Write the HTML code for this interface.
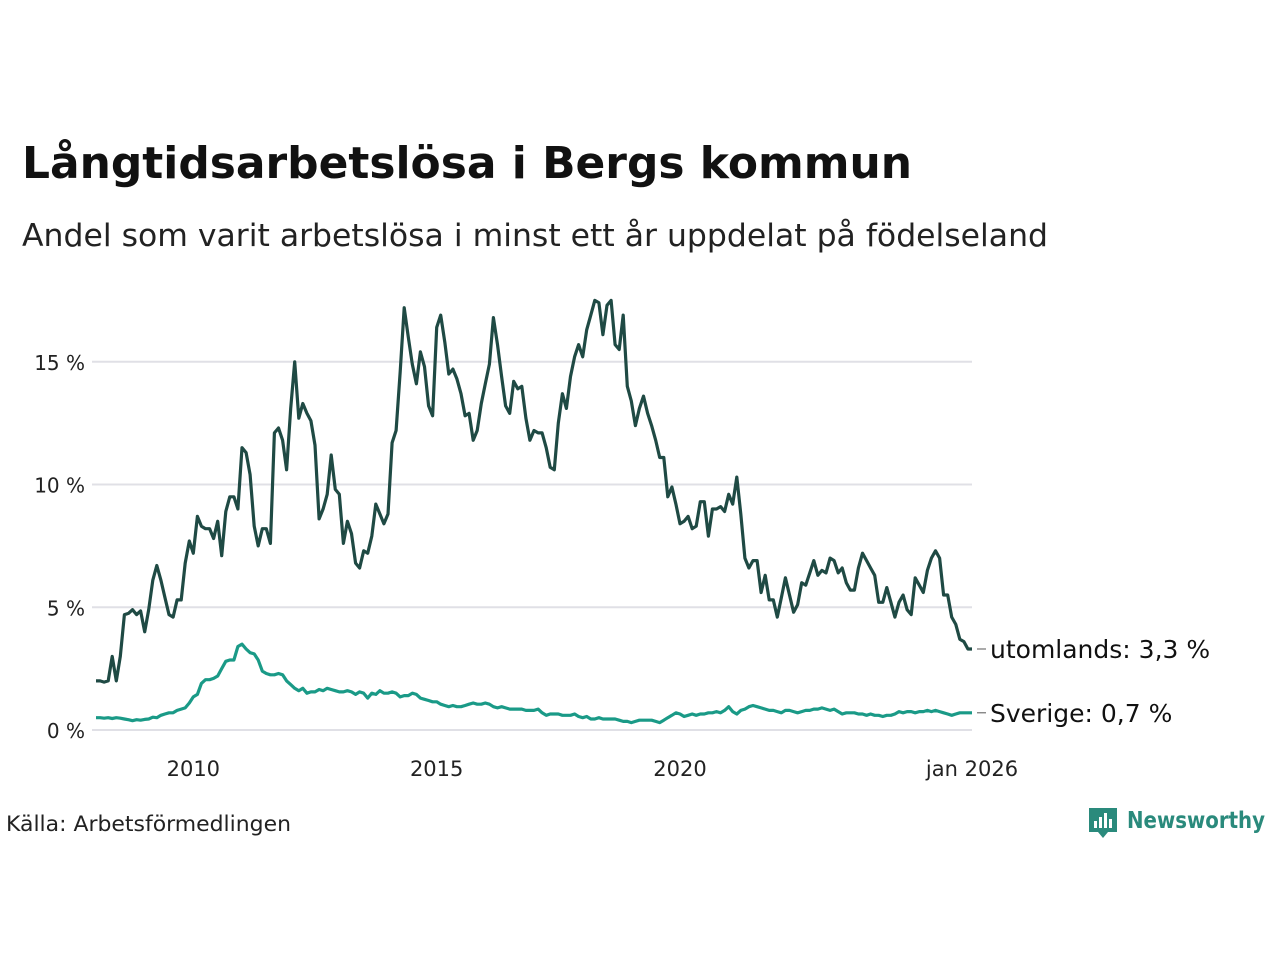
<!DOCTYPE html>
<html><head><meta charset="utf-8"><style>
html,body{margin:0;padding:0;background:#fff;}
svg{display:block;font-family:"DejaVu Sans","Liberation Sans",sans-serif;}
</style></head><body>
<svg id="chart" width="1280" height="960" viewBox="0 0 1280 960">
<text x="22" y="178" font-size="44" font-weight="bold" fill="#111" textLength="890" lengthAdjust="spacingAndGlyphs">Långtidsarbetslösa i Bergs kommun</text>
<text x="22" y="246" font-size="31" fill="#222" textLength="1026" lengthAdjust="spacingAndGlyphs">Andel som varit arbetslösa i minst ett år uppdelat på födelseland</text>
<g id="grid"></g>
<g id="lines"></g>
<g id="labels"></g>
<text x="6" y="831" font-size="21" fill="#222" textLength="285" lengthAdjust="spacingAndGlyphs">Källa: Arbetsförmedlingen</text>
<g>
<path d="M1089 808 h28 v24 h-9 l-5 6 l-5 -6 h-9 z" fill="#2a8a7c"/>
<rect x="1094" y="821" width="3" height="7" fill="#fff"/><rect x="1099" y="817" width="3" height="11" fill="#fff"/><rect x="1104" y="813" width="3" height="15" fill="#fff"/><rect x="1109" y="819" width="3" height="9" fill="#fff"/>
<text x="1127" y="828" font-size="23" font-weight="bold" fill="#2a8a7c" textLength="138" lengthAdjust="spacingAndGlyphs">Newsworthy</text>
</g>
</svg>
<script>
const startYear = 2008;
const utomlands = [
2.0,2.0,1.95,2.0,3.0,2.0,3.0,4.7,4.75,4.9,4.7,4.85,
4.0,4.9,6.1,6.7,6.1,5.4,4.7,4.6,5.3,5.3,6.8,7.7,
7.2,8.7,8.3,8.2,8.2,7.8,8.5,7.1,8.9,9.5,9.5,9.0,
11.5,11.3,10.4,8.3,7.5,8.2,8.2,7.6,12.1,12.3,11.8,10.6,
13.1,15.0,12.7,13.3,12.9,12.6,11.6,8.6,9.0,9.6,11.2,9.8,
9.6,7.6,8.5,8.0,6.8,6.6,7.3,7.2,7.9,9.2,8.8,8.4,
8.8,11.7,12.2,14.6,17.2,16.0,14.9,14.1,15.4,14.8,13.2,12.8,
16.4,16.9,15.8,14.5,14.7,14.3,13.7,12.8,12.9,11.8,12.2,13.3,
14.1,14.9,16.8,15.7,14.4,13.2,12.9,14.2,13.9,14.0,12.7,11.8,
12.2,12.1,12.1,11.5,10.7,10.6,12.5,13.7,13.1,14.4,15.2,15.7,
15.2,16.3,16.9,17.5,17.4,16.1,17.3,17.5,15.7,15.5,16.9,14.0,
13.4,12.4,13.1,13.6,12.9,12.4,11.8,11.1,11.1,9.5,9.9,9.2,
8.4,8.5,8.7,8.2,8.3,9.3,9.3,7.9,9.0,9.0,9.1,8.9,
9.6,9.2,10.3,8.8,7.0,6.6,6.9,6.9,5.6,6.3,5.3,5.3,
4.6,5.4,6.2,5.5,4.8,5.1,6.0,5.9,6.4,6.9,6.3,6.5,
6.4,7.0,6.9,6.4,6.6,6.0,5.7,5.7,6.6,7.2,6.9,6.6,
6.3,5.2,5.2,5.8,5.2,4.6,5.2,5.5,4.9,4.7,6.2,5.9,
5.6,6.5,7.0,7.3,7.0,5.5,5.5,4.6,4.3,3.7,3.6,3.3,
3.3];
const sverige = [
0.5,0.5,0.48,0.5,0.47,0.5,0.48,0.45,0.42,0.38,0.42,0.4,
0.43,0.45,0.52,0.5,0.6,0.65,0.7,0.7,0.8,0.85,0.9,1.1,
1.35,1.45,1.9,2.05,2.05,2.1,2.2,2.5,2.8,2.85,2.85,3.4,
3.5,3.3,3.15,3.1,2.85,2.4,2.3,2.25,2.25,2.3,2.25,2.0,
1.85,1.7,1.6,1.7,1.5,1.55,1.55,1.65,1.6,1.7,1.65,1.6,
1.55,1.55,1.6,1.55,1.45,1.55,1.5,1.3,1.5,1.45,1.6,1.5,
1.5,1.55,1.5,1.35,1.4,1.4,1.5,1.45,1.3,1.25,1.2,1.15,
1.15,1.05,1.0,0.95,1.0,0.95,0.95,1.0,1.05,1.1,1.05,1.05,
1.1,1.05,0.95,0.9,0.95,0.9,0.85,0.85,0.85,0.85,0.8,0.8,
0.8,0.85,0.7,0.6,0.65,0.65,0.65,0.6,0.6,0.6,0.65,0.55,
0.5,0.55,0.45,0.45,0.5,0.45,0.45,0.45,0.45,0.4,0.35,0.35,
0.3,0.35,0.4,0.4,0.4,0.4,0.35,0.3,0.4,0.5,0.6,0.7,
0.65,0.55,0.6,0.65,0.6,0.65,0.65,0.7,0.7,0.75,0.7,0.8,
0.95,0.75,0.65,0.8,0.85,0.95,1.0,0.95,0.9,0.85,0.8,0.8,
0.75,0.7,0.8,0.8,0.75,0.7,0.75,0.8,0.8,0.85,0.85,0.9,
0.85,0.8,0.85,0.75,0.65,0.7,0.7,0.7,0.65,0.65,0.6,0.65,
0.6,0.6,0.55,0.6,0.6,0.65,0.75,0.7,0.75,0.75,0.7,0.75,
0.75,0.8,0.75,0.8,0.75,0.7,0.65,0.6,0.65,0.7,0.7,0.7,
0.7];
const yTicks = [0,5,10,15];
const yTickLabels = ["0 %","5 %","10 %","15 %"];
const xTicks = [2010,2015,2020,2026];
const xTickLabels = ["2010","2015","2020","jan 2026"];
const seriesNames = ["utomlands","Sverige"];

const NS="http://www.w3.org/2000/svg";
const X0=96,X1=972,Y0=730,PX_PER_PCT=24.55;
const nYears=(utomlands.length-1)/12;
function x(t){return X0+(t-startYear)/nYears*(X1-X0);}
function y(v){return Y0-v*PX_PER_PCT;}
function mk(tag,attrs,parent){const e=document.createElementNS(NS,tag);for(const k in attrs)e.setAttribute(k,attrs[k]);parent.appendChild(e);return e;}
const grid=document.getElementById('grid'),lines=document.getElementById('lines'),labels=document.getElementById('labels');
yTicks.forEach((v,i)=>{
  const l=mk('line',{x1:92,x2:972,y1:y(v),y2:y(v),stroke:'#e0e0e6','stroke-width':2},grid);
  
  
  const t=mk('text',{x:85,y:y(v)+8,'font-size':20,fill:'#222','text-anchor':'end'},grid);
  t.textContent=yTickLabels[i];
  
  
});
xTicks.forEach((v,i)=>{
  const t=mk('text',{x:x(v),y:776,'font-size':21,fill:'#222','text-anchor':'middle'},grid);
  t.textContent=xTickLabels[i];
  
  
});
function drawLine(data,color,name){
  const d=data.map((v,i)=>(i?'L':'M')+x(startYear+i/12).toFixed(1)+','+y(v).toFixed(1)).join('');
  const p=mk('path',{d:d,fill:'none',stroke:color,'stroke-width':3.2,'stroke-linejoin':'round'},lines);
  
  
  const last=data[data.length-1],ly=y(last);
  mk('line',{x1:977,x2:986,y1:ly,y2:ly,stroke:'#555','stroke-width':1},labels);
  const t=mk('text',{x:990,y:ly+9,'font-size':25,fill:'#111'},labels);
  t.textContent=name+': '+last.toFixed(1).replace('.',',')+' %';
  
  
}
drawLine(sverige,'#1a9a87',seriesNames[1]);
drawLine(utomlands,'#1f4a44',seriesNames[0]);
</script>
</body></html>
